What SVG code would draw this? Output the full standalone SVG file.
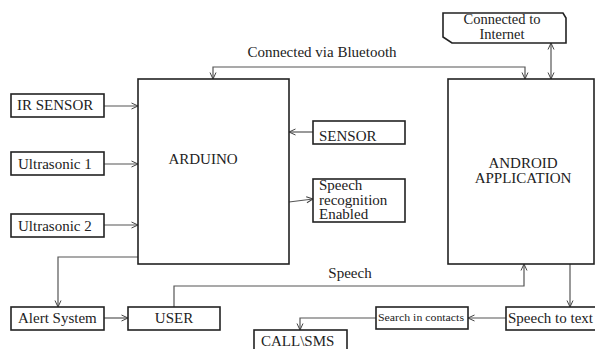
<svg xmlns="http://www.w3.org/2000/svg" width="595" height="349" viewBox="0 0 595 349">
<defs>
<marker id="ah" viewBox="0 0 8 8" refX="7.5" refY="4" markerWidth="8" markerHeight="8" markerUnits="userSpaceOnUse" orient="auto-start-reverse">
<path d="M1,1 L7.5,4 L1,7" fill="none" stroke="#444" stroke-width="1"/>
</marker>
<style>
.box{fill:#fff;stroke:#222;stroke-width:1.6}
.t{font-size:15px;fill:#222}
.c{fill:none;stroke:#555;stroke-width:1.2}
</style>
</defs>
<rect width="595" height="349" fill="#fff"/>
<g font-family="Liberation Serif, Times New Roman, serif">
<g id="connectors">
<line class="c" x1="104" y1="106" x2="138" y2="106" marker-end="url(#ah)"/>
<line class="c" x1="104" y1="164" x2="138" y2="164" marker-end="url(#ah)"/>
<line class="c" x1="104" y1="225" x2="138" y2="225" marker-end="url(#ah)"/>
<line class="c" x1="313" y1="132" x2="289" y2="132" marker-end="url(#ah)"/>
<line class="c" x1="289" y1="202" x2="313" y2="199" marker-end="url(#ah)"/>
<polyline class="c" points="138,257 58,257 58,307" marker-end="url(#ah)"/>
<line class="c" x1="104" y1="318" x2="128" y2="318" marker-end="url(#ah)"/>
<polyline class="c" points="174,307 174,286 524,286 524,264" marker-end="url(#ah)"/>
<polyline class="c" points="213,79 213,67 525,67 525,79" marker-start="url(#ah)" marker-end="url(#ah)"/>
<line class="c" x1="551" y1="43" x2="551" y2="79" marker-start="url(#ah)" marker-end="url(#ah)"/>
<line class="c" x1="570" y1="264" x2="570" y2="307" marker-end="url(#ah)"/>
<line class="c" x1="506" y1="318" x2="468" y2="318" marker-end="url(#ah)"/>
<polyline class="c" points="376,318 300,318 300,330" marker-end="url(#ah)"/>
<text class="t" x="322" y="57" text-anchor="middle">Connected via Bluetooth</text>
<text class="t" x="350" y="278" text-anchor="middle">Speech</text>
</g>
<g id="ir-sensor"><rect class="box" x="11" y="94" width="93" height="23"/><text class="t" x="17" y="110">IR SENSOR</text></g>
<g id="ultrasonic1"><rect class="box" x="11" y="152" width="93" height="23"/><text class="t" x="18" y="169">Ultrasonic 1</text></g>
<g id="ultrasonic2"><rect class="box" x="11" y="214" width="93" height="23"/><text class="t" x="18" y="231">Ultrasonic 2</text></g>
<g id="arduino"><rect class="box" x="138" y="79" width="151" height="185"/><text class="t" x="203" y="164" text-anchor="middle">ARDUINO</text></g>
<g id="sensor"><rect class="box" x="313" y="121" width="92" height="23"/><text class="t" x="319" y="141">SENSOR</text></g>
<g id="speech-recognition"><rect class="box" x="313" y="179" width="92" height="43"/><text class="t" x="319" y="190">Speech</text><text class="t" x="319" y="204.5">recognition</text><text class="t" x="319" y="219">Enabled</text></g>
<g id="internet"><path class="box" d="M443,13 L563,13 L566,18 L566,43 L452,43 L443,37 Z"/><text class="t" x="502" y="24" text-anchor="middle" style="font-size:14.5px">Connected to</text><text class="t" x="502" y="38.5" text-anchor="middle" style="font-size:14.5px">Internet</text></g>
<g id="android"><rect class="box" x="448" y="79" width="146" height="185"/><text class="t" x="523" y="168" text-anchor="middle">ANDROID</text><text class="t" x="523" y="183" text-anchor="middle">APPLICATION</text></g>
<g id="alert-system"><rect class="box" x="11" y="307" width="93" height="23"/><text class="t" x="18" y="323">Alert System</text></g>
<g id="user"><rect class="box" x="128" y="307" width="92" height="23"/><text class="t" x="174" y="323" text-anchor="middle">USER</text></g>
<g id="speech-to-text"><rect class="box" x="506" y="307" width="92" height="23"/><text class="t" x="508" y="323">Speech to text</text></g>
<g id="search-contacts"><rect class="box" x="376" y="307" width="92" height="22"/><text class="t" x="378" y="321" style="font-size:10.5px" textLength="86" lengthAdjust="spacingAndGlyphs">Search in contacts</text></g>
<g id="call-sms"><rect class="box" x="254" y="330" width="93" height="25"/><text class="t" x="261" y="346">CALL\SMS</text></g>
</g>
</svg>
